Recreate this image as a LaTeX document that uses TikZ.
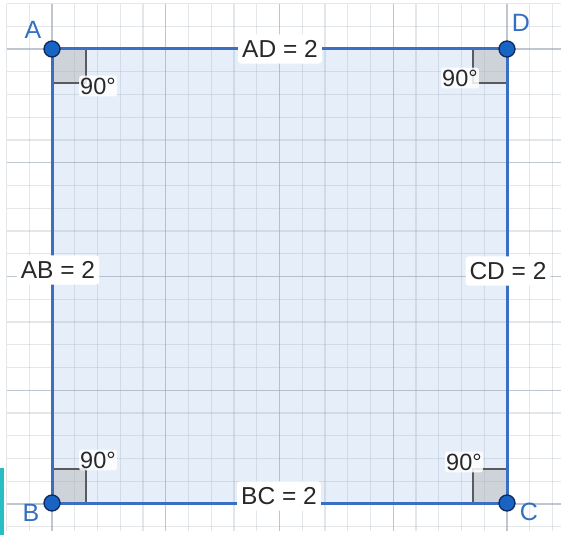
\documentclass[tikz,border=0pt]{standalone}
\usepackage{fontspec}
\setmainfont{Liberation Sans}
\definecolor{edgeblue}{RGB}{58,112,196}
\definecolor{fillblue}{RGB}{230,238,250}
\definecolor{ptblue}{RGB}{24,100,196}
\definecolor{ptdark}{RGB}{16,40,90}
\definecolor{lblblue}{RGB}{52,112,192}
\definecolor{gridminor}{RGB}{150,160,175}
\definecolor{txtgray}{RGB}{40,40,40}
\definecolor{markgray}{RGB}{90,90,95}
\definecolor{teal}{RGB}{40,190,195}
\tikzset{
  minorline/.style={draw=gridminor, opacity=0.25, line width=1.2pt},
  majorline/.style={draw=gridminor, opacity=0.6, line width=1.4pt},
  edgeline/.style={draw=edgeblue, line width=3pt},
  ptnode/.style={circle, fill=ptblue, draw=ptdark, line width=1.3pt, minimum size=16pt, inner sep=0pt},
  vlabel/.style={text=lblblue, font=\fontsize{25}{25}\selectfont, inner sep=0pt},
  sidelabel/.style={fill=white, text=txtgray, rounded corners=3pt, inner xsep=4pt, inner ysep=6pt, font=\fontsize{24.5}{24.5}\selectfont},
  anglabel/.style={fill=white, fill opacity=0.85, text opacity=1, text=txtgray, inner xsep=1pt, inner ysep=2pt, rounded corners=2pt, font=\fontsize{23.5}{23.5}\selectfont},
  markfill/.style={fill=gray!60, fill opacity=0.45, draw=gray, draw opacity=0.5, line width=1pt},
  markedge/.style={draw=markgray, line width=2.2pt}
}
\begin{document}
\begin{tikzpicture}[x=1pt,y=-1pt]
\useasboundingbox (0,0) rectangle (566,535);
\fill[white] (0,0) rectangle (566,535);
% square fill
\fill[fillblue] (52,49) rectangle (507,503);
% grid
\foreach \k in {-2,...,22}{
  \pgfmathsetmacro{\xx}{52+\k*22.75}
  \pgfmathtruncatemacro{\mm}{mod(\k+10,5)}
  \ifnum\mm=0
    \draw[majorline] (\xx,4) -- (\xx,531);
  \else
    \draw[minorline] (\xx,4) -- (\xx,531);
  \fi
}
\foreach \k in {-2,...,21}{
  \pgfmathsetmacro{\yy}{49+\k*22.75}
  \pgfmathtruncatemacro{\mm}{mod(\k+10,5)}
  \ifnum\mm=0
    \draw[majorline] (7,\yy) -- (561,\yy);
  \else
    \draw[minorline] (7,\yy) -- (561,\yy);
  \fi
}
% teal bar
\fill[teal] (0,468) rectangle (4,535);
% right angle markers
\fill[markfill] (52,49) rectangle (86,83);
\draw[markedge] (86,49) -- (86,83) -- (52,83);
\fill[markfill] (473,49) rectangle (507,83);
\draw[markedge] (473,49) -- (473,83) -- (507,83);
\fill[markfill] (52,469) rectangle (86,503);
\draw[markedge] (52,469) -- (86,469) -- (86,503);
\fill[markfill] (473,469) rectangle (507,503);
\draw[markedge] (473,503) -- (473,469) -- (507,469);
% points
\coordinate (a) at (52,49);
\coordinate (b) at (52,503);
\coordinate (c) at (507,503);
\coordinate (d) at (507,49);
\draw[edgeline] (a) -- (d) -- (c) -- (b) -- cycle;
% side labels
\node[sidelabel] (lAD) at (280,49) {AD = 2};
\node[sidelabel] (lAB) at (58,270) {AB = 2};
\node[sidelabel] (lCD) at (508,271) {CD = 2};
\node[sidelabel] (lBC) at (279,496) {BC = 2};
% angle labels
\node[anglabel] (gA) at (98,86) {90°};
\node[anglabel] (gD) at (460,78) {90°};
\node[anglabel] (gB) at (98,460) {90°};
\node[anglabel] (gC) at (464,462) {90°};
% vertices
\node[ptnode] (A) at (a) {};
\node[ptnode] (B) at (b) {};
\node[ptnode] (C) at (c) {};
\node[ptnode] (D) at (d) {};
\node[vlabel] (tA) at (33,30) {A};
\node[vlabel] (tD) at (521,23) {D};
\node[vlabel] (tB) at (31,513) {B};
\node[vlabel] (tC) at (529,512) {C};
\end{tikzpicture}
\end{document}
